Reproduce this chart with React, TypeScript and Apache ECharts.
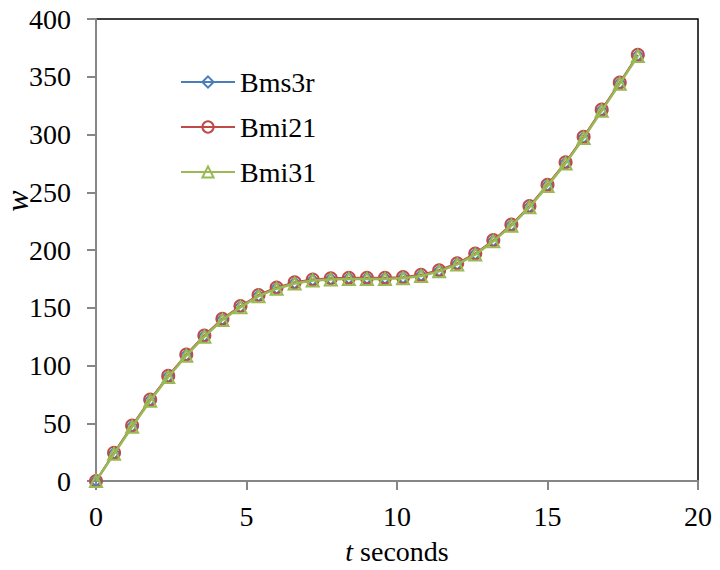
import React, { useEffect, useRef } from "react";
import * as echarts from "echarts";

const tValues = [0, 0.6, 1.2, 1.8, 2.4, 3.0, 3.6, 4.2, 4.8, 5.4, 6.0, 6.6, 7.2, 7.8, 8.4, 9.0, 9.6, 10.2, 10.8, 11.4, 12.0, 12.6, 13.2, 13.8, 14.4, 15.0, 15.6, 16.2, 16.8, 17.4, 18.0];
const bms3r = [0, 24, 47.5, 70, 90.5, 109, 125.5, 140, 151, 160.5, 167, 171.5, 174, 175, 175.5, 175.5, 175.5, 176, 178, 182, 188, 196.5, 208, 221.5, 237.5, 256, 275.5, 297.5, 321, 344.5, 368.5];
const bmi21 = [0, 24.5, 48, 70.5, 91, 109.5, 126, 140.5, 151.5, 161, 167.5, 172, 174.5, 175.5, 176, 176, 176, 176.5, 178.5, 182.5, 188.5, 197, 208.5, 222, 238, 256.5, 276, 298, 321.5, 345, 369];
const bmi31 = [0, 23.5, 47, 69.5, 90, 108.5, 125, 139.5, 150.5, 160, 166.5, 171, 173.5, 174.5, 175, 175, 175, 175.5, 177.5, 181.5, 187.5, 196, 207.5, 221, 237, 255.5, 275, 297, 320.5, 344, 368];
const seriesNames = ["Bms3r", "Bmi21", "Bmi31"];
const xTicks = [0, 5, 10, 15, 20];
const yTicks = [0, 50, 100, 150, 200, 250, 300, 350, 400];

const FONT = "Liberation Serif";

export default function App() {
  const ref = useRef<HTMLDivElement>(null);
  useEffect(() => {
    if (!ref.current) return;
    const chart = echarts.init(ref.current, undefined, { renderer: "svg" });
    const colors = ["#4a7ebb", "#be4b48", "#98b954"];
    const symbols = ["diamond", "circle", "triangle"];
    const sizes = [11, 12, 12];
    const widths = [2, 2, 2.5];
    const datasets = [bms3r, bmi21, bmi31];
    chart.setOption({
      animation: false,
      backgroundColor: "#ffffff",
      grid: {
        left: 96,
        right: 22,
        top: 19,
        bottom: 89,
        show: true,
        borderColor: "#000",
        borderWidth: 1.5,
        backgroundColor: "transparent",
      },
      legend: {
        left: 175,
        top: 63,
        orient: "vertical",
        itemWidth: 54,
        itemHeight: 14,
        itemGap: 17,
        data: seriesNames,
        textStyle: { fontFamily: FONT, fontSize: 28, color: "#000" },
      },
      xAxis: {
        type: "value",
        min: xTicks[0],
        max: xTicks[xTicks.length - 1],
        interval: 5,
        name: "{i|t} seconds",
        nameLocation: "middle",
        nameGap: 56,
        nameTextStyle: {
          fontFamily: FONT,
          fontSize: 28,
          color: "#000",
          rich: { i: { fontFamily: FONT, fontSize: 28, fontStyle: "italic", color: "#000" } },
        },
        axisLine: { show: true, onZero: false, lineStyle: { color: "#868686", width: 2 } },
        axisTick: { show: true, inside: false, length: 9, lineStyle: { color: "#868686", width: 2 } },
        axisLabel: { fontFamily: FONT, fontSize: 28, color: "#000", margin: 21 },
        splitLine: { show: false },
      },
      yAxis: {
        type: "value",
        min: yTicks[0],
        max: yTicks[yTicks.length - 1],
        interval: 50,
        axisLine: { show: true, onZero: false, lineStyle: { color: "#868686", width: 2 } },
        axisTick: { show: true, inside: false, length: 9, lineStyle: { color: "#868686", width: 2 } },
        axisLabel: { fontFamily: FONT, fontSize: 28, color: "#000", margin: 25 },
        splitLine: { show: false },
      },
      graphic: [
        {
          type: "text",
          x: 17,
          y: 201,
          rotation: Math.PI / 2,
          style: {
            text: "w",
            fontFamily: FONT,
            fontSize: 32,
            fontStyle: "italic",
            fill: "#000",
            align: "center",
            verticalAlign: "middle",
          },
        },
      ],
      series: datasets.map((d, i) => ({
        name: seriesNames[i],
        type: "line",
        data: d.map((v, j) => [tValues[j], v]),
        symbol: symbols[i],
        symbolSize: sizes[i],
        showAllSymbol: true,
        lineStyle: { color: colors[i], width: widths[i] },
        itemStyle: { color: "rgba(255,255,255,0)", borderColor: colors[i], borderWidth: 2 },
        emphasis: { disabled: true },
        z: 2 + i,
      })),
    });
    return () => chart.dispose();
  }, []);
  return <div ref={ref} style={{ width: 720, height: 570, position: "absolute", left: 0, top: 0 }} />;
}
